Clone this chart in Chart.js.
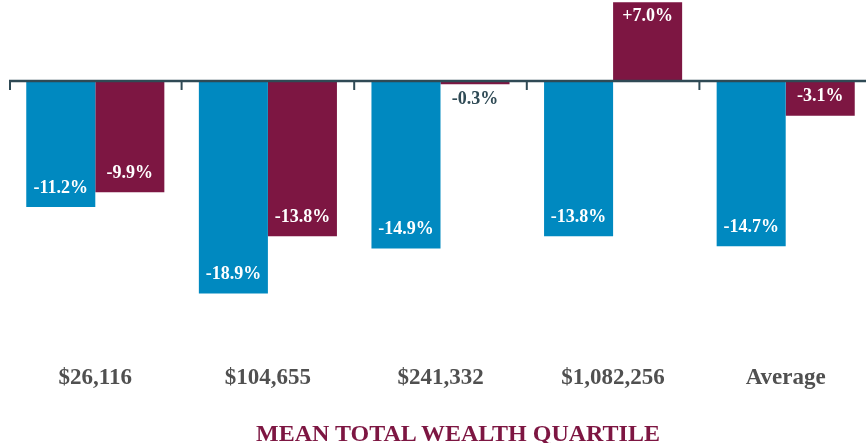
<!DOCTYPE html>
<html>
<head>
<meta charset="utf-8">
<script src="https://cdn.jsdelivr.net/npm/chart.js@4"></script>
<style>
  body { margin: 0; background: #fff; overflow: hidden; }
  #wrap { position: relative; width: 872px; height: 443px; }
  #axisTitle {
    position: absolute; left: 0; top: 420px; width: 866px; padding-left: 50px; box-sizing: border-box;
    text-align: center; font-family: "Liberation Serif", serif; font-weight: bold; font-size: 24px;
    color: #7d1642; line-height: 26px;
  }
</style>
</head>
<body>
<div id="wrap">
  <canvas id="myChart" width="872" height="443"></canvas>
  <div id="axisTitle">MEAN TOTAL WEALTH QUARTILE</div>
</div>
<script>
const categories = ['$26,116', '$104,655', '$241,332', '$1,082,256', 'Average'];
const blueValues = [-11.2, -18.9, -14.9, -13.8, -14.7];
const maroonValues = [-9.9, -13.8, -0.3, 7.0, -3.1];

const blue = '#0089c0';
const maroon = '#7d1642';
const slate = '#2f4a55';

const fmt = (v) => (v > 0 ? '+' : '') + v.toFixed(1) + '%';

// baseline with little tick marks between the groups
const baseLine = {
  id: 'baseLine',
  afterDatasetsDraw(chart) {
    const ctx = chart.ctx;
    const y0 = chart.scales.y.getPixelForValue(0);
    const xs = chart.scales.x;
    const area = chart.chartArea;
    const step = xs.getPixelForValue(1) - xs.getPixelForValue(0);
    ctx.save();
    ctx.strokeStyle = slate;
    ctx.lineWidth = 2.5;
    ctx.beginPath();
    ctx.moveTo(area.left, y0);
    ctx.lineTo(area.right, y0);
    ctx.stroke();
    ctx.lineWidth = 2;
    for (let i = 0; i <= categories.length; i++) {
      const x = Math.max(area.left + 1, xs.getPixelForValue(0) - step / 2 + i * step);
      ctx.beginPath();
      ctx.moveTo(x, y0);
      ctx.lineTo(x, y0 + 9);
      ctx.stroke();
    }
    ctx.restore();
  }
};

const barLabels = {
  id: 'barLabels',
  afterDatasetsDraw(chart) {
    const ctx = chart.ctx;
    ctx.save();
    ctx.font = 'bold 18px "Liberation Serif", serif';
    ctx.textAlign = 'center';
    ctx.textBaseline = 'middle';
    chart.data.datasets.forEach((ds, di) => {
      chart.getDatasetMeta(di).data.forEach((bar, i) => {
        const v = ds.data[i];
        const h = Math.abs(bar.y - bar.base);
        let ty;
        if (h > 30) {
          ctx.fillStyle = '#ffffff';
          ty = v < 0 ? bar.y - 19 : bar.y + 14;
        } else {
          ctx.fillStyle = slate;
          ty = v < 0 ? bar.y + 15 : bar.y - 15;
        }
        ctx.fillText(fmt(v), bar.x, ty);
      });
    });
    ctx.restore();
  }
};

var ctx = document.getElementById('myChart').getContext('2d');
var myChart = new Chart(ctx, {
  type: 'bar',
  data: {
    labels: categories,
    datasets: [
      {
        data: blueValues,
        backgroundColor: blue,
        categoryPercentage: 0.8,
        barPercentage: 1.0
      },
      {
        data: maroonValues,
        backgroundColor: maroon,
        categoryPercentage: 0.8,
        barPercentage: 1.0
      }
    ]
  },
  options: {
    responsive: false,
    animation: false,
    layout: {
      padding: { left: 9, right: 0, top: 0, bottom: 23 }
    },
    plugins: {
      legend: false,
      tooltip: { enabled: false }
    },
    scales: {
      x: {
        grid: { display: false },
        border: { display: false },
        ticks: {
          color: '#505050',
          padding: 28,
          font: { family: '"Liberation Serif", serif', weight: 'bold', size: 23 }
        }
      },
      y: {
        display: false,
        min: -22,
        max: 7.2
      }
    }
  },
  plugins: [barLabels, baseLine]
});
</script>
</body>
</html>
